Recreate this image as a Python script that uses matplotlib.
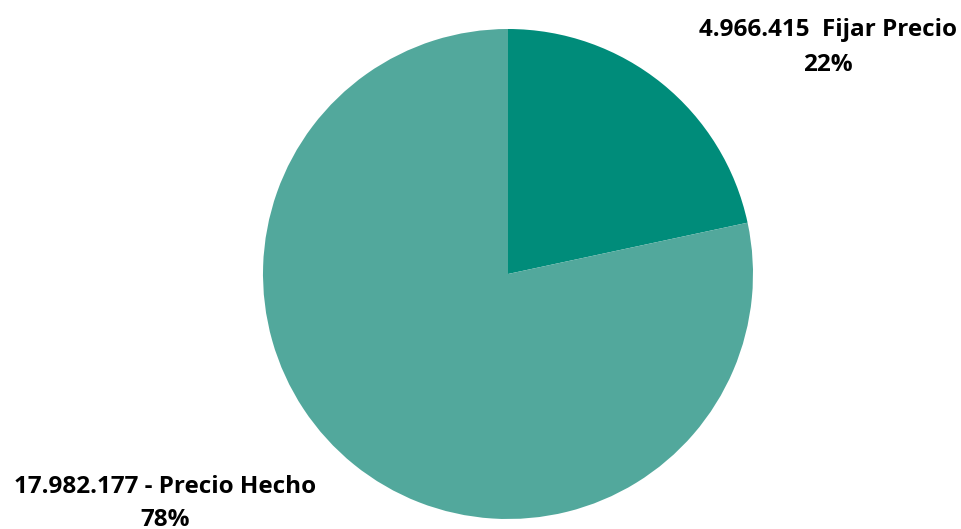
import matplotlib.pyplot as plt

categories = ['Fijar Precio', 'Precio Hecho']
values = [4966415, 17982177]
separators = ['  ', ' - ']
colors = ['#008C7A', '#52A89C']

total = sum(values)

fig = plt.figure(figsize=(9.61, 5.29), dpi=100)
ax = fig.add_axes([263 / 961, 10 / 529, 490 / 961, 490 / 529])
ax.pie(values, colors=colors, startangle=90, counterclock=False,
       wedgeprops={'linewidth': 0})
ax.set_xlim(-1, 1)
ax.set_ylim(-1, 1)
ax.set_aspect('equal')

def fmt(v):
    return f'{v:,}'.replace(',', '.')

# label positions in figure pixels: x centre, y of each line from top
label_pos = [(828, 30, 65), (165, 487, 520)]
for name, v, sep, (px, y1, y2) in zip(categories, values, separators, label_pos):
    style = dict(ha='center', va='center', fontsize=17.5, fontweight='bold',
                 family='Open Sans')
    fig.text(px / 961, 1 - y1 / 529, f'{fmt(v)}{sep}{name}', **style)
    fig.text(px / 961, 1 - y2 / 529, f'{round(100 * v / total)}%', **style)

fig.savefig('out.png', dpi=100)
